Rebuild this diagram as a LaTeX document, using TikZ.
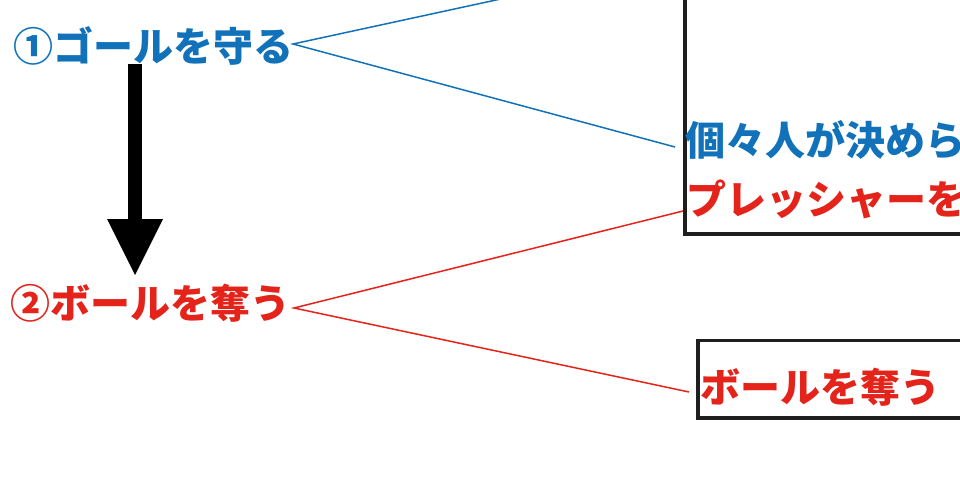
\documentclass[tikz,border=0pt]{standalone}
\usepackage{fontspec}
\newfontfamily\jp{Noto Sans CJK JP}
\usetikzlibrary{arrows.meta}
\definecolor{jblue}{RGB}{17,114,186}
\definecolor{jred}{RGB}{228,35,26}
\definecolor{boxc}{RGB}{30,30,30}
\begin{document}
\begin{tikzpicture}[x=1pt,y=-1pt,
  lbl/.style={inner sep=0pt, outer sep=0pt, anchor=base west, font=\jp\bfseries\fontsize{40}{40}\selectfont},
  bluelbl/.style={lbl, text=jblue},
  redlbl/.style={lbl, text=jred},
  bluelink/.style={draw=jblue, line width=1.5pt},
  redlink/.style={draw=jred, line width=1.5pt},
  framebox/.style={draw=boxc, line width=3.5pt, outer sep=0pt, inner sep=0pt},
  bigarrow/.style={line width=14.5pt, -{Triangle[width=56pt,length=56pt,line width=0pt]}}
]
\useasboundingbox (0,0) rectangle (960,503);
\clip (0,0) rectangle (960,503);
\fill[white] (0,0) rectangle (960,503);
% frames
\node[framebox, anchor=south west, minimum width=400pt, minimum height=300pt] (box1) at (685,234) {};
\node[framebox, anchor=north west, minimum width=400pt, minimum height=77.5pt] (box2) at (698,340.5) {};
% labels
\node[bluelbl] (g1) at (13,61) {①ゴールを守る};
\node[redlbl] (g2) at (10,318) {②ボールを奪う};
\node[bluelbl] (b1a) at (685,155) {個々人が決めら};
\node[redlbl] (b1b) at (686,214) {プレッシャーを};
\node[redlbl] (b2t) at (700,402) {ボールを奪う};
% connectors
\coordinate (hidden) at (676,-39);
\draw[bluelink] (hidden) -- ([shift={(0,-17)}]g1.base east) -- ([shift={(-10,-8)}]b1a.base west);
\draw[redlink] ([shift={(-3,-3)}]b1b.base west) -- ([shift={(4,-10)}]g2.base east) -- ([shift={(-11,-10)}]b2t.base west);
% big arrow
\coordinate (atop) at ([shift={(122,3)}]g1.base west);
\coordinate (atip) at ([shift={(125,-43)}]g2.base west);
\draw[bigarrow] (atop) -- (atip);
\end{tikzpicture}
\end{document}
